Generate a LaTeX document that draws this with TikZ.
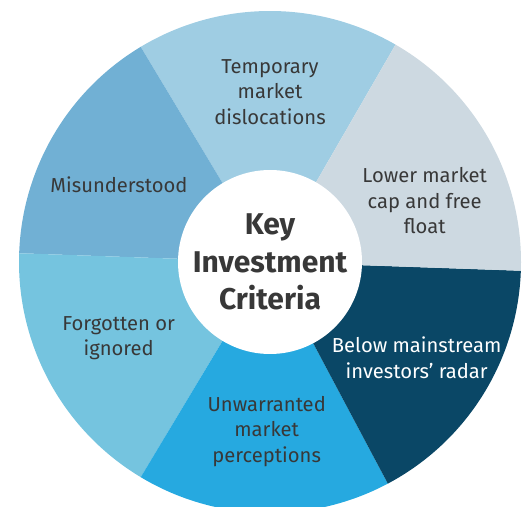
\documentclass[tikz,border=0pt]{standalone}
\usepackage{fontspec}
\setmainfont{Fira Sans}
\usepackage{xcolor}
\usetikzlibrary{positioning}
\definecolor{tempblue}{HTML}{9FCDE3}
\definecolor{capgrey}{HTML}{CDD9E1}
\definecolor{radarnavy}{HTML}{0A4766}
\definecolor{percblue}{HTML}{26A9E0}
\definecolor{forgotblue}{HTML}{75C4DF}
\definecolor{misblue}{HTML}{71B0D4}
\definecolor{labgrey}{HTML}{383838}
\tikzset{lbl/.style={align=center,text=labgrey,font=\fontsize{20.2}{25.5}\selectfont}}

\begin{document}
\begin{tikzpicture}[x=1pt,y=1pt]
\useasboundingbox (0,0) rectangle (522,506);
\coordinate (c) at (270,244);
\fill[tempblue] (c) -- ++(60:251) arc[start angle=60,end angle=121,radius=251] -- cycle;
\fill[misblue] (c) -- ++(121:251) arc[start angle=121,end angle=178,radius=251] -- cycle;
\fill[forgotblue] (c) -- ++(178:251) arc[start angle=178,end angle=239,radius=251] -- cycle;
\fill[percblue] (c) -- ++(239:251) arc[start angle=239,end angle=298,radius=251] -- cycle;
\fill[radarnavy] (c) -- ++(-62:251) arc[start angle=-62,end angle=-2,radius=251] -- cycle;
\fill[capgrey] (c) -- ++(-2:251) arc[start angle=-2,end angle=60,radius=251] -- cycle;
\node[circle,fill=white,minimum size=184pt,inner sep=0pt,align=center,text=labgrey,
  font=\bfseries\fontsize{30}{37.5}\selectfont] (hub) at (c) {Key\\Investment\\Criteria};
\node[lbl] (temp) at (270,414) {Temporary\\market\\dislocations};
\node[lbl] (cap) at (424.7,305) {Lower market\\cap and free\\float};
\node[lbl,text=white] (radar) at (416.7,148.5) {Below mainstream\\investors’ radar};
\node[lbl] (perc) at (266.7,74.6) {Unwarranted\\market\\perceptions};
\node[lbl] (forgot) at (118.7,168) {Forgotten or\\ignored};
\node[lbl] (misund) at (119,321) {Misunderstood};
\end{tikzpicture}
\end{document}
